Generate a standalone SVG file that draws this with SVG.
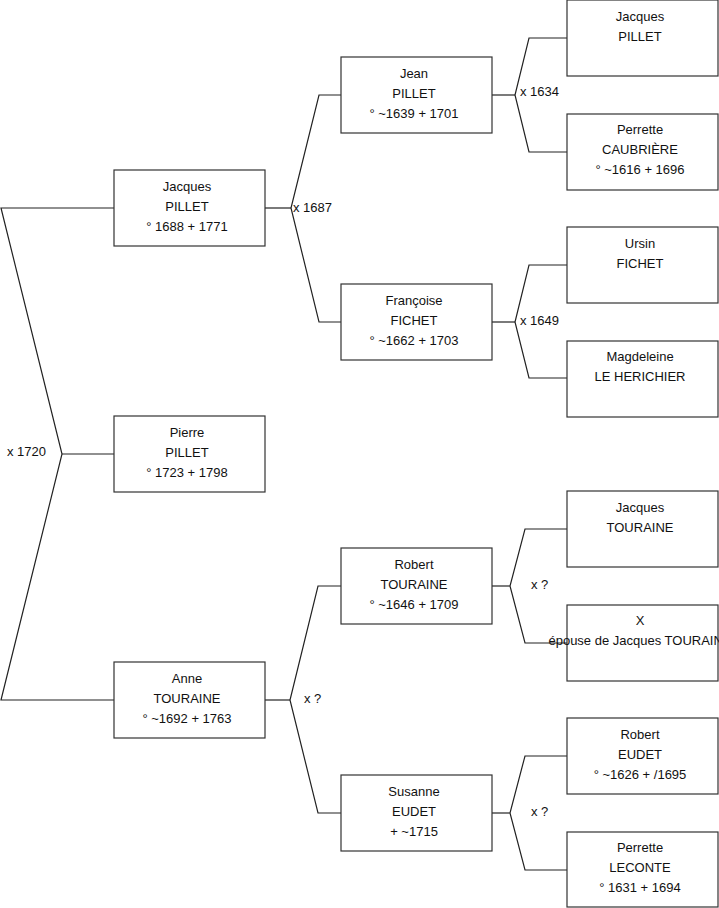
<svg xmlns="http://www.w3.org/2000/svg" width="719" height="908" viewBox="0 0 719 908">
<style>
.box{fill:#fff;stroke:#333;stroke-width:1.2}
.ln{fill:none;stroke:#222;stroke-width:1.2}
text{font-family:"Liberation Sans",Arial,sans-serif;font-size:13px;fill:#111}
.c{text-anchor:middle}
</style>
<rect width="719" height="908" fill="#fff"/>
<g id="connectors">
<polyline class="ln" points="114,208 1,208 62,454 1,700 114,700"/>
<line class="ln" x1="62" y1="454" x2="114" y2="454"/>
<polyline class="ln" points="265,208 291,208"/>
<polyline class="ln" points="341,95 319,95 291,208 319,322 341,322"/>
<polyline class="ln" points="265,700 290,700"/>
<polyline class="ln" points="341,586 318,586 290,700 318,813 341,813"/>
<polyline class="ln" points="492,95 515,95"/>
<polyline class="ln" points="567,38 529,38 515,95 529,152 567,152"/>
<polyline class="ln" points="492,322 515,322"/>
<polyline class="ln" points="567,265 529,265 515,322 529,378 567,378"/>
<polyline class="ln" points="492,586 510,586"/>
<polyline class="ln" points="567,529 525,529 510,586 525,643 567,643"/>
<polyline class="ln" points="492,813 510,813"/>
<polyline class="ln" points="567,756 525,756 510,813 525,870 567,870"/>
<text x="7" y="456">x 1720</text>
<text x="293" y="212">x 1687</text>
<text x="304" y="703">x ?</text>
<text x="520" y="96">x 1634</text>
<text x="520" y="325">x 1649</text>
<text x="531" y="589">x ?</text>
<text x="531" y="816">x ?</text>
</g>
<g id="n-jacques-pillet-1688">
<rect class="box" x="114" y="170" width="151" height="76"/>
<text class="c" x="187" y="191">Jacques</text><text class="c" x="187" y="211">PILLET</text><text class="c" x="187" y="231">° 1688 + 1771</text>
</g>
<g id="n-pierre-pillet">
<rect class="box" x="114" y="416" width="151" height="76"/>
<text class="c" x="187" y="437">Pierre</text><text class="c" x="187" y="457">PILLET</text><text class="c" x="187" y="477">° 1723 + 1798</text>
</g>
<g id="n-anne-touraine">
<rect class="box" x="114" y="662" width="151" height="76"/>
<text class="c" x="187" y="683">Anne</text><text class="c" x="187" y="703">TOURAINE</text><text class="c" x="187" y="723">° ~1692 + 1763</text>
</g>
<g id="n-jean-pillet">
<rect class="box" x="341" y="57" width="151" height="76"/>
<text class="c" x="414" y="78">Jean</text><text class="c" x="414" y="98">PILLET</text><text class="c" x="414" y="118">° ~1639 + 1701</text>
</g>
<g id="n-francoise-fichet">
<rect class="box" x="341" y="284" width="151" height="76"/>
<text class="c" x="414" y="305">Françoise</text><text class="c" x="414" y="325">FICHET</text><text class="c" x="414" y="345">° ~1662 + 1703</text>
</g>
<g id="n-robert-touraine">
<rect class="box" x="341" y="548" width="151" height="76"/>
<text class="c" x="414" y="569">Robert</text><text class="c" x="414" y="589">TOURAINE</text><text class="c" x="414" y="609">° ~1646 + 1709</text>
</g>
<g id="n-susanne-eudet">
<rect class="box" x="341" y="775" width="151" height="76"/>
<text class="c" x="414" y="796">Susanne</text><text class="c" x="414" y="816">EUDET</text><text class="c" x="414" y="836"> + ~1715</text>
</g>
<g id="n-jacques-pillet-old">
<rect class="box" x="567" y="0" width="151" height="76"/>
<text class="c" x="640" y="21">Jacques</text><text class="c" x="640" y="41">PILLET</text>
</g>
<g id="n-perrette-caubriere">
<rect class="box" x="567" y="114" width="151" height="76"/>
<text class="c" x="640" y="134">Perrette</text><text class="c" x="640" y="154">CAUBRIÈRE</text><text class="c" x="640" y="174">° ~1616 + 1696</text>
</g>
<g id="n-ursin-fichet">
<rect class="box" x="567" y="227" width="151" height="76"/>
<text class="c" x="640" y="248">Ursin</text><text class="c" x="640" y="268">FICHET</text>
</g>
<g id="n-magdeleine">
<rect class="box" x="567" y="341" width="151" height="76"/>
<text class="c" x="640" y="361">Magdeleine</text><text class="c" x="640" y="381">LE HERICHIER</text>
</g>
<g id="n-jacques-touraine">
<rect class="box" x="567" y="491" width="151" height="76"/>
<text class="c" x="640" y="512">Jacques</text><text class="c" x="640" y="532">TOURAINE</text>
</g>
<g id="n-x-epouse">
<rect class="box" x="567" y="605" width="151" height="76"/>
<text class="c" x="640" y="625">X</text><text class="c" x="640" y="645">épouse de Jacques TOURAINE</text>
</g>
<g id="n-robert-eudet">
<rect class="box" x="567" y="718" width="151" height="76"/>
<text class="c" x="640" y="739">Robert</text><text class="c" x="640" y="759">EUDET</text><text class="c" x="640" y="779">° ~1626 + /1695</text>
</g>
<g id="n-perrette-leconte">
<rect class="box" x="567" y="832" width="151" height="75"/>
<text class="c" x="640" y="852">Perrette</text><text class="c" x="640" y="872">LECONTE</text><text class="c" x="640" y="892">° 1631 + 1694</text>
</g>
</svg>
